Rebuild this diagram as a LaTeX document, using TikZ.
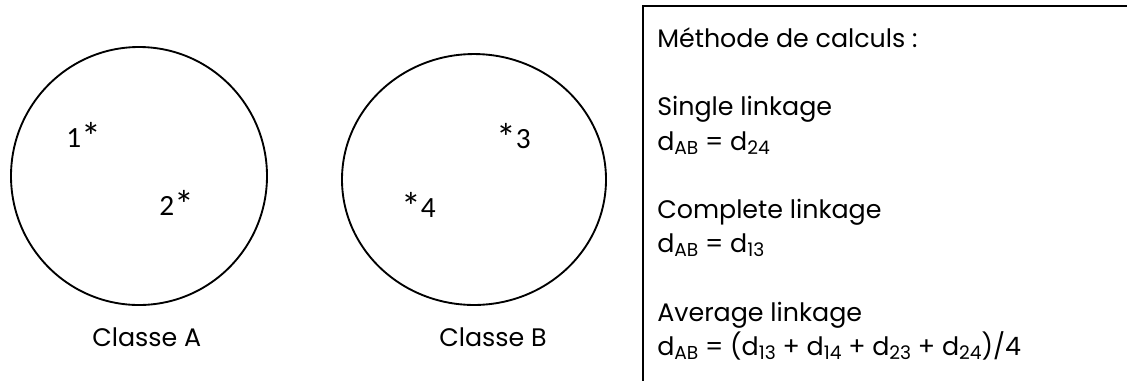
\documentclass[tikz,border=0pt]{standalone}
\usepackage{fontspec}
\setmainfont{Poppins}
\newfontfamily\digitfont{Carlito}
\usetikzlibrary{positioning}
\newcommand{\dist}[1]{d\raisebox{-0.3ex}{\fontsize{14}{14}\selectfont #1}}
\newcommand{\pstar}{\raisebox{-0.25ex}{\scalebox{1.35}{*}}}

\tikzset{
  classe/.style={draw=black, line width=1.4pt},
  classname/.style={anchor=base west, inner sep=0pt, font=\fontsize{19}{22}\selectfont},
  pointlabel/.style={anchor=base west, inner sep=0pt, font=\digitfont\fontsize{22}{24}\selectfont},
  methline/.style={anchor=base west, inner sep=0pt, font=\fontsize{19}{22}\selectfont},
}

\begin{document}
\begin{tikzpicture}[x=0.75pt, y=-0.75pt]
  \useasboundingbox (0,0) rectangle (1127,380);
  \clip (0,0) rectangle (1127,380);

  % the two classes
  \draw[classe] (139,176) ellipse [x radius=96pt, y radius=96.75pt];
  \draw[classe] (474,179.5) ellipse [x radius=99pt, y radius=94.1pt];

  \node[pointlabel] (p1) at (66,147) {1\pstar};
  \node[pointlabel] (p2) at (159,215) {2\pstar};
  \node[pointlabel] (p3) at (496,148) {\pstar 3};
  \node[pointlabel] (p4) at (401,217) {\pstar 4};

  \node[classname] (nameA) at (92,346) {Classe A};
  \node[classname] (nameB) at (439,346) {Classe B};

  % method box
  \draw[line width=2.2pt] (643,6) rectangle (1150,400);
  \node[methline] (title) at (657,47) {Méthode de calculs :};
  \node[methline] (single) at (657,115.6) {Single linkage};
  \node[methline] (singleeq) at (657,150) {\dist{AB} = \dist{24}};
  \node[methline] (complete) at (657,218.5) {Complete linkage};
  \node[methline] (completeeq) at (657,252.7) {\dist{AB} = \dist{13}};
  \node[methline] (average) at (657,321.4) {Average linkage};
  \node[methline] (averageeq) at (657,355.7) {\dist{AB} = (\dist{13} + \dist{14} + \dist{23} + \dist{24})/4};
\end{tikzpicture}
\end{document}
